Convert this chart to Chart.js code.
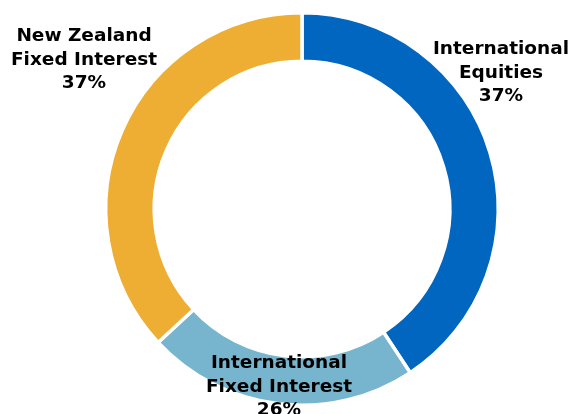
<!DOCTYPE html>
<html>
<head>
<meta charset="utf-8">
<script src="https://cdn.jsdelivr.net/npm/chart.js@4"></script>
<style>
  html, body { margin: 0; padding: 0; background: #fff; }
  #wrap { width: 573px; height: 414px; }
</style>
</head>
<body>
<div id="wrap"><canvas id="mix"></canvas></div>
<script>
// arc sizes as drawn in the picture (the printed labels differ slightly)
const categories = ["International Equities", "International Fixed Interest", "New Zealand Fixed Interest"];
const labelLines = [["International", "Equities"], ["International", "Fixed Interest"], ["New Zealand", "Fixed Interest"]];
const percentLabels = ["37%", "26%", "37%"];
const values = [40.7, 22.4, 36.9];
const colors = ["#0066bf", "#77b5ce", "#eeae33"];

// label offsets from the doughnut centre (middle line of each label)
const labelOffsets = [[199, -136], [-23, 178], [-218, -149]];

const sliceLabels = {
  id: "sliceLabels",
  afterDatasetsDraw(chart) {
    const ctx = chart.ctx;
    const arcs = chart.getDatasetMeta(0).data;
    ctx.save();
    ctx.font = "bold 18.5px 'DejaVu Sans', Verdana, sans-serif";
    ctx.fillStyle = "#000";
    ctx.textAlign = "center";
    ctx.textBaseline = "middle";
    arcs.forEach((arc, i) => {
      const lines = labelLines[i].concat([percentLabels[i]]);
      const cx = arc.x + labelOffsets[i][0];
      const cy = arc.y + labelOffsets[i][1];
      lines.forEach((t, j) => {
        ctx.fillText(t, cx, cy + (j - 1) * 23.5);
      });
    });
    ctx.restore();
  },
};

let ctx = document.getElementById("mix").getContext("2d");

window.mixChart = new Chart(ctx, {
  type: "doughnut",
  data: {
    labels: categories,
    datasets: [
      {
        data: values,
        backgroundColor: colors,
        borderColor: "#ffffff",
        borderWidth: 3.5,
      },
    ],
  },
  options: {
    responsive: true,
    maintainAspectRatio: false,
    animation: false,
    cutout: "75.3%",
    layout: {
      padding: { top: 11, bottom: 7, left: 31, right: 0 },
    },
    plugins: {
      legend: { display: false },
      tooltip: { enabled: false },
    },
  },
  plugins: [sliceLabels],
});
</script>
</body>
</html>
